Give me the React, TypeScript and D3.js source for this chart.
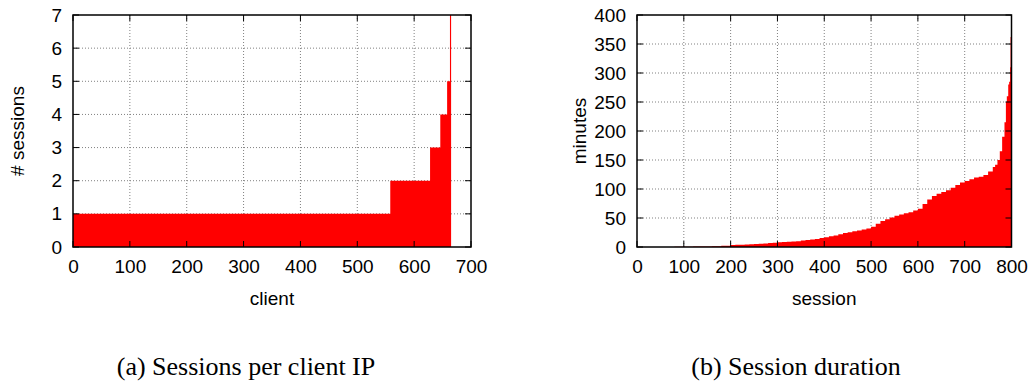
import React, { useEffect, useRef } from "react";
import * as d3 from "d3";

// (a) sessions per client IP: sorted clients, run-length steps
const clientStepStart = [0, 558, 628, 646, 658, 663];
const clientStepSessions = [1, 2, 3, 4, 5, 12];
const clientTotal = 665;
const clientXTicks = [0, 100, 200, 300, 400, 500, 600, 700];
const clientYTicks = [0, 1, 2, 3, 4, 5, 6, 7];

// (b) session duration: sorted sessions, sampled off the curve
const sessionIndex = [
    0, 20, 40, 60, 80, 100, 120, 140, 160, 180, 200, 210, 220, 230, 240, 250,
    260, 270, 280, 290, 300, 310, 320, 330, 340, 350, 360, 370, 380, 390, 400,
    410, 420, 430, 440, 450, 460, 470, 480, 490, 500, 510, 520, 530, 540, 550,
    560, 570, 580, 590, 600, 610, 620, 630, 640, 650, 660, 670, 680, 690, 700,
    710, 720, 730, 740, 750, 760, 765, 770, 775, 780, 785, 788, 790, 793, 795,
    797, 798,
];
const sessionMinutes = [
    0, 0, 0, 0.2, 0.3, 0.5, 0.8, 1, 1.3, 2, 3.5, 3.8, 4, 4.3, 4.6, 5, 5.5, 6.2,
    7, 7.5, 8, 8.5, 9, 9.5, 10, 11, 12, 13, 14, 15.5, 17, 18.5, 20, 22, 24, 25.5,
    27, 28.5, 30, 32, 35, 40, 45, 48, 51, 54, 56, 58, 60, 63, 66, 74, 82, 88, 92,
    95, 98, 102, 107, 111, 114, 117, 120, 121, 124, 130, 138, 142, 150, 165, 190,
    215, 250, 260, 280, 285, 310, 362,
];
const sessionTotal = 800;
const sessionXTicks = [0, 100, 200, 300, 400, 500, 600, 700, 800];
const sessionYTicks = [0, 50, 100, 150, 200, 250, 300, 350, 400];

const WIDTH = 1032;
const HEIGHT = 385;
const SANS = "'Liberation Sans', Arial, Helvetica, sans-serif";
const SERIF = "'Liberation Serif', 'Times New Roman', Times, serif";

interface Panel {
    id: string;
    left: number;
    right: number;
    xMax: number;
    yMax: number;
    xTicks: number[];
    yTicks: number[];
    xLabel: string;
    yLabel: string;
    yLabelX: number;
    points: [number, number][];
}

const App: React.FC = () => {
    const svgRef = useRef<SVGSVGElement | null>(null);

    useEffect(() => {
        if (!svgRef.current) return;
        const svg = d3.select(svgRef.current);
        svg.selectAll("*").remove();

        const top = 15;
        const bottom = 247;

        const clientPts: [number, number][] = clientStepStart.map((s, i) => [
            s,
            clientStepSessions[i],
        ]);
        clientPts.push([clientTotal, clientStepSessions[clientStepSessions.length - 1]]);

        const sessionPts: [number, number][] = sessionIndex.map((s, i) => [
            s,
            sessionMinutes[i],
        ]);
        sessionPts.push([sessionTotal, sessionMinutes[sessionMinutes.length - 1]]);

        const panels: Panel[] = [
            {
                id: "a",
                left: 73,
                right: 471,
                xMax: 700,
                yMax: 7,
                xTicks: clientXTicks,
                yTicks: clientYTicks,
                xLabel: "client",
                yLabel: "# sessions",
                yLabelX: 24,
                points: clientPts,
            },
            {
                id: "b",
                left: 637,
                right: 1011.5,
                xMax: 800,
                yMax: 400,
                xTicks: sessionXTicks,
                yTicks: sessionYTicks,
                xLabel: "session",
                yLabel: "minutes",
                yLabelX: 586,
                points: sessionPts,
            },
        ];

        panels.forEach((p) => {
            const x = d3.scaleLinear().domain([0, p.xMax]).range([p.left, p.right]);
            const y = d3.scaleLinear().domain([0, p.yMax]).range([bottom, top]);
            const g = svg.append("g");

            g.append("clipPath")
                .attr("id", `clip-${p.id}`)
                .append("rect")
                .attr("x", p.left)
                .attr("y", top)
                .attr("width", p.right - p.left)
                .attr("height", bottom - top);

            // grid
            g.append("g")
                .selectAll("line")
                .data(p.xTicks.slice(1, -1))
                .join("line")
                .attr("x1", (d) => x(d))
                .attr("x2", (d) => x(d))
                .attr("y1", top)
                .attr("y2", bottom)
                .attr("stroke", "#808080")
                .attr("stroke-dasharray", "1,2");
            g.append("g")
                .selectAll("line")
                .data(p.yTicks.slice(1, -1))
                .join("line")
                .attr("x1", p.left)
                .attr("x2", p.right)
                .attr("y1", (d) => y(d))
                .attr("y2", (d) => y(d))
                .attr("stroke", "#808080")
                .attr("stroke-dasharray", "1,2");

            // filled steps
            const area = d3
                .area<[number, number]>()
                .x((d) => x(d[0]))
                .y0(y(0))
                .y1((d) => y(d[1]))
                .curve(d3.curveStepAfter);
            g.append("path")
                .datum(p.points)
                .attr("clip-path", `url(#clip-${p.id})`)
                .attr("fill", "#ff0000")
                .attr("d", area);

            // inward ticks, mirrored
            const tl = 6;
            const ticks = g.append("g").attr("stroke", "#000").attr("stroke-width", 1);
            p.xTicks.forEach((t) => {
                ticks.append("line").attr("x1", x(t)).attr("x2", x(t)).attr("y1", bottom).attr("y2", bottom - tl);
                ticks.append("line").attr("x1", x(t)).attr("x2", x(t)).attr("y1", top).attr("y2", top + tl);
            });
            p.yTicks.forEach((t) => {
                ticks.append("line").attr("x1", p.left).attr("x2", p.left + tl).attr("y1", y(t)).attr("y2", y(t));
                ticks.append("line").attr("x1", p.right).attr("x2", p.right - tl).attr("y1", y(t)).attr("y2", y(t));
            });

            // border
            g.append("rect")
                .attr("x", p.left)
                .attr("y", top)
                .attr("width", p.right - p.left)
                .attr("height", bottom - top)
                .attr("fill", "none")
                .attr("stroke", "#000")
                .attr("stroke-width", 1.5);

            // tick labels
            g.append("g")
                .attr("transform", `translate(0,${bottom})`)
                .call(d3.axisBottom(x).tickValues(p.xTicks).tickSize(0).tickPadding(12.5).tickFormat(d3.format("d")))
                .call((a) => a.select(".domain").remove())
                .call((a) =>
                    a.selectAll("text").attr("font-size", 19).attr("font-family", SANS).attr("fill", "#000")
                );
            g.append("g")
                .attr("transform", `translate(${p.left},0)`)
                .call(d3.axisLeft(y).tickValues(p.yTicks).tickSize(0).tickPadding(11).tickFormat(d3.format("d")))
                .call((a) => a.select(".domain").remove())
                .call((a) =>
                    a.selectAll("text").attr("font-size", 19).attr("font-family", SANS).attr("fill", "#000")
                );

            // axis titles
            g.append("text")
                .attr("x", (p.left + p.right) / 2)
                .attr("y", 305)
                .attr("text-anchor", "middle")
                .attr("font-size", 19)
                .attr("font-family", SANS)
                .text(p.xLabel);
            g.append("text")
                .attr("transform", `translate(${p.yLabelX},${(top + bottom) / 2}) rotate(-90)`)
                .attr("text-anchor", "middle")
                .attr("font-size", 19)
                .attr("font-family", SANS)
                .text(p.yLabel);
        });

        // captions
        svg.append("text")
            .attr("x", 246)
            .attr("y", 375)
            .attr("text-anchor", "middle")
            .attr("font-size", 26)
            .attr("font-family", SERIF)
            .text("(a)  Sessions per client IP");
        svg.append("text")
            .attr("x", 796)
            .attr("y", 375)
            .attr("text-anchor", "middle")
            .attr("font-size", 26)
            .attr("font-family", SERIF)
            .text("(b)  Session duration");
    }, []);

    return (
        <div style={{ position: "absolute", left: 0, top: 0, background: "#fff" }}>
            <svg ref={svgRef} width={WIDTH} height={HEIGHT} style={{ display: "block" }}></svg>
        </div>
    );
};

export default App;
